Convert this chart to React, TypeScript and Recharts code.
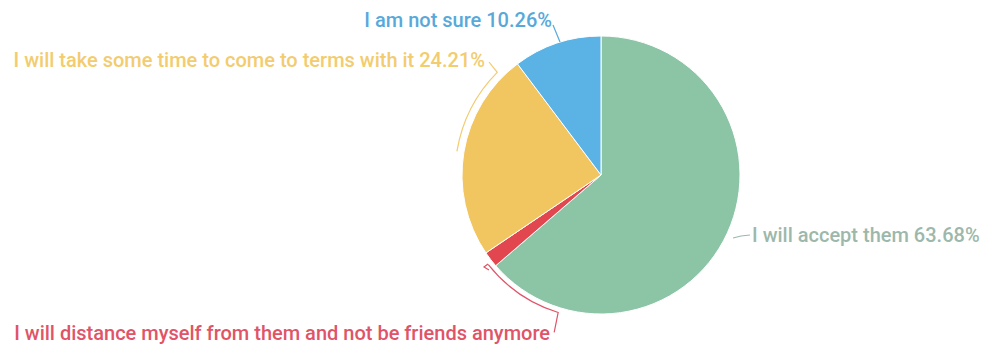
import { PieChart, Pie, Cell } from "recharts";

const answers = [
  "I will accept them",
  "I will distance myself from them and not be friends anymore",
  "I will take some time to come to terms with it",
  "I am not sure",
];
const shares = [63.68, 1.85, 24.21, 10.26];
const showPercent = [true, false, true, true];

const sliceColors = ["#8cc4a6", "#e2474f", "#f1c660", "#5bb3e5"];
const textColors = ["#9db8ab", "#e05468", "#f2cc6e", "#58a9da"];

const data = answers.map((name, i) => ({ name, value: shares[i] }));

// label placement relative to pie centre; lines given as polar arcs / offsets
type LabelLayout = {
  tx: number;
  ty: number;
  anchor: "start" | "end";
  path: (cx: number, cy: number) => string;
};

const polar = (cx: number, cy: number, r: number, deg: number) => {
  const a = (deg * Math.PI) / 180;
  return [cx + r * Math.cos(a), cy - r * Math.sin(a)];
};

const arc = (cx: number, cy: number, r: number, a1: number, a2: number) => {
  const [x1, y1] = polar(cx, cy, r, a1);
  const [x2, y2] = polar(cx, cy, r, a2);
  const sweep = a2 > a1 ? 0 : 1;
  return `M${x1},${y1} A${r},${r} 0 0 ${sweep} ${x2},${y2}`;
};

const layouts: LabelLayout[] = [
  {
    tx: 151,
    ty: 60,
    anchor: "start",
    path: (cx, cy) => `M${cx + 132},${cy + 63} L${cx + 140},${cy + 61} L${cx + 149},${cy + 60}`,
  },
  {
    tx: -51,
    ty: 158,
    anchor: "end",
    path: (cx, cy) => {
      const [ex, ey] = polar(cx, cy, 144, 252.7);
      return `${arc(cx, cy, 144, 218.5, 252.7)} L${ex - 4},${ey + 20} M${cx - 113},${cy + 89} l-4,3 l5,3`;
    },
  },
  {
    tx: -116,
    ty: -115,
    anchor: "end",
    path: (cx, cy) => {
      const [sx, sy] = polar(cx, cy, 146, 135.3);
      return `M${cx - 112},${cy - 113} L${sx},${sy} ${arc(cx, cy, 146, 135.3, 170.7).replace("M", "L")}`;
    },
  },
  {
    tx: -49,
    ty: -155,
    anchor: "end",
    path: (cx, cy) => `M${cx - 48},${cy - 150} L${cx - 41},${cy - 133}`,
  },
];

const renderLabel = (props: any) => {
  const { cx, cy, index, value, name } = props;
  const l = layouts[index];
  const text = showPercent[index] ? `${name} ${value.toFixed(2)}%` : name;
  return (
    <g key={`lbl-${index}`}>
      <path d={l.path(cx, cy)} fill="none" stroke={textColors[index]} strokeWidth={1.2} />
      <text
        x={cx + l.tx}
        y={cy + l.ty}
        textAnchor={l.anchor}
        dominantBaseline="central"
        fill={textColors[index]}
        fontFamily="Roboto, sans-serif"
        fontWeight={500}
        fontSize={20}
      >
        {text}
      </text>
    </g>
  );
};

const App = () => {
  return (
    <div style={{ position: "absolute", left: 0, top: 0, width: 984, height: 349, background: "#fff" }}>
      <PieChart width={984} height={349} margin={{ top: 0, right: 0, bottom: 0, left: 0 }}>
        <Pie
          data={data}
          dataKey="value"
          nameKey="name"
          cx={601}
          cy={175}
          outerRadius={139}
          startAngle={90}
          endAngle={-270}
          stroke="#fff"
          strokeWidth={1}
          label={renderLabel}
          labelLine={false}
          isAnimationActive={false}
        >
          {data.map((d, i) => (
            <Cell key={d.name} fill={sliceColors[i]} />
          ))}
        </Pie>
      </PieChart>
    </div>
  );
};

export default App;
